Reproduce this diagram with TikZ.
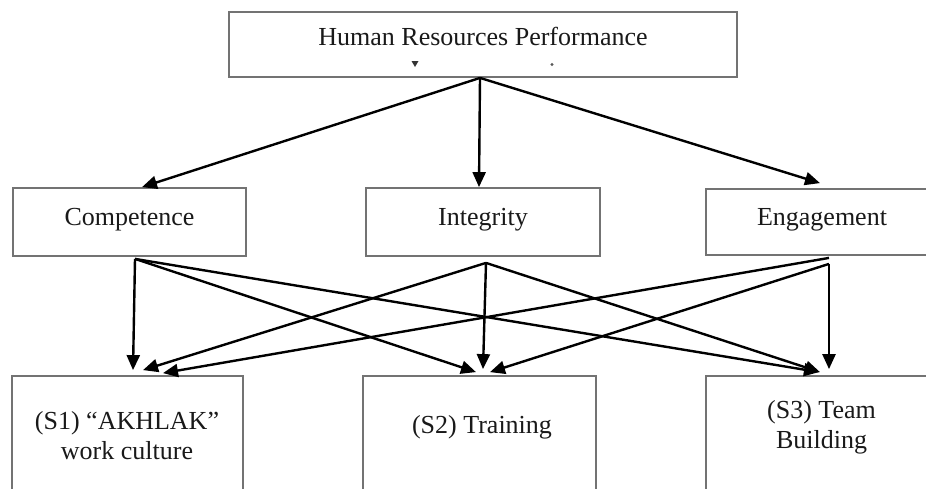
\documentclass[tikz,border=0pt]{standalone}
\usepackage{fontspec}
\setmainfont{Liberation Serif}
\usetikzlibrary{arrows.meta}
\begin{document}
\begin{tikzpicture}[x=1pt,y=-1pt,
  box/.style={draw=black!55, line width=1.8pt, inner sep=0pt, anchor=center},
  lbl/.style={font=\fontsize{26}{30}\selectfont, text=black!90, align=center, inner sep=0pt, anchor=base},
  arr/.style={line width=2.4pt, draw=black, -{Triangle[length=15pt,width=13pt]}}]
\useasboundingbox (0,0) rectangle (926,488);
\clip (0,0) rectangle (926,488);
% boxes
\node[box, minimum width=508pt, minimum height=65pt] (hr) at (483,44.5) {};
\node[box, minimum width=233pt, minimum height=68pt] (comp) at (129.5,222) {};
\node[box, minimum width=234pt, minimum height=68pt] (int) at (483,222) {};
\node[box, minimum width=234pt, minimum height=66pt] (eng) at (823,222) {};
\node[box, minimum width=231pt, minimum height=144pt] (s1) at (127.5,448) {};
\node[box, minimum width=233pt, minimum height=144pt] (s2) at (479.5,448) {};
\node[box, minimum width=234pt, minimum height=144pt] (s3) at (823,448) {};
% labels (base anchor = baseline of the last line)
\node[lbl] (thr) at (483,45) {Human Resources Performance};
\node[lbl] (tcomp) at (129.5,225) {Competence};
\node[lbl] (tint) at (483,225) {Integrity};
\node[lbl] (teng) at (822,225) {Engagement};
\node[lbl] (ts1) at (127,459) {(S1) “AKHLAK”\\work culture};
\node[lbl] (ts2) at (482,433) {(S2) Training};
\node[lbl] (ts3) at (821.5,448) {(S3) Team\\Building};
% small marks in top box
\fill[black!80] (411.5,61) -- (418.5,61) -- (415,67) -- cycle;
\fill[black!65] (552,64.5) circle (1.6);
% top level arrows
\draw[arr] ([xshift=-3pt]hr.south) -- ([xshift=12.5pt]comp.north);
\draw[arr] ([xshift=-3pt]hr.south) -- ([xshift=-4pt]int.north);
\draw[arr] ([xshift=-3pt]hr.south) -- ([xshift=-3pt,yshift=5pt]eng.north);
% competence
\draw[arr] ([xshift=5.5pt,yshift=-2pt]comp.south) -- ([xshift=5.5pt,yshift=5pt]s1.north);
\draw[arr] ([xshift=5.5pt,yshift=-2pt]comp.south) -- ([xshift=-3.5pt,yshift=3pt]s2.north);
\draw[arr] ([xshift=5.5pt,yshift=-2pt]comp.south) -- ([xshift=-4pt,yshift=3pt]s3.north);
% integrity
\draw[arr] ([xshift=3pt,yshift=-6pt]int.south) -- ([xshift=15.5pt,yshift=5pt]s1.north);
\draw[arr] ([xshift=3pt,yshift=-6pt]int.south) -- ([xshift=3.5pt,yshift=6pt]s2.north);
\draw[arr] ([xshift=3pt,yshift=-6pt]int.south) -- ([xshift=-3pt,yshift=3pt]s3.north);
% engagement
\draw[arr] ([xshift=6pt,yshift=-2pt]eng.south) -- ([xshift=35.5pt,yshift=2pt]s1.north);
\draw[arr] ([xshift=6pt,yshift=-8pt]eng.south) -- ([xshift=10.5pt,yshift=3pt]s2.north);
\draw[arr] ([xshift=6pt,yshift=-8pt]eng.south) -- ([xshift=6pt,yshift=6pt]s3.north);
\end{tikzpicture}
\end{document}
